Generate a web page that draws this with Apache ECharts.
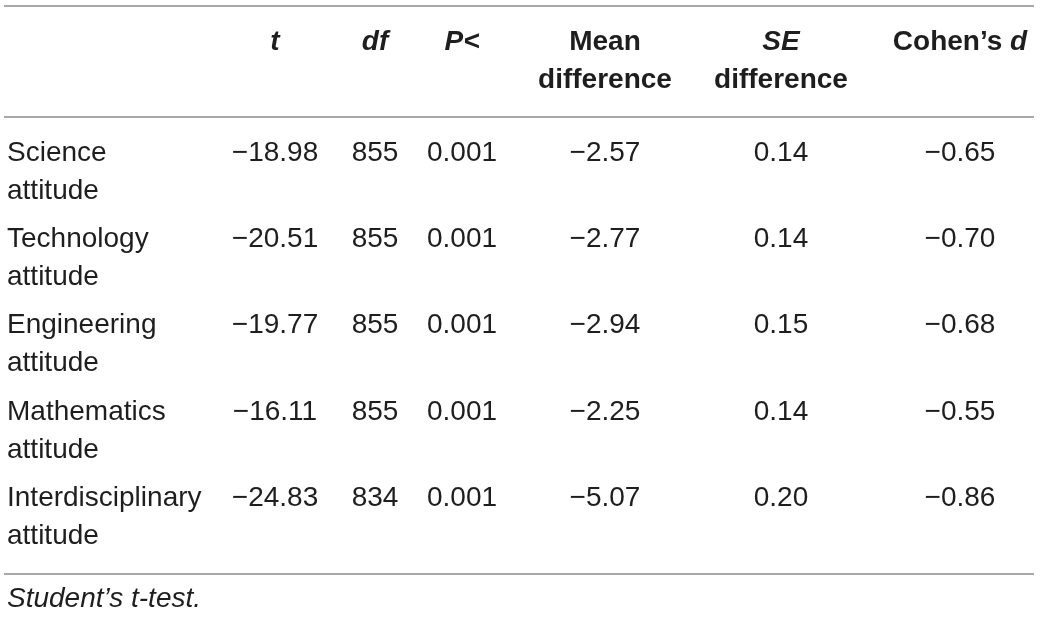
<!DOCTYPE html>
<html><head><meta charset="utf-8">
<script src="https://cdn.jsdelivr.net/npm/echarts@6/dist/echarts.min.js"></script>
<style>html,body{margin:0;padding:0;background:#fff}#c{width:1040px;height:617px}</style>
</head><body><div id="c"></div>
<script>
// ---- data ----
const rowLabels = ['Science\nattitude','Technology\nattitude','Engineering\nattitude','Mathematics\nattitude','Interdisciplinary\nattitude'];
const tValues = [-18.98, -20.51, -19.77, -16.11, -24.83];
const dfValues = [855, 855, 855, 855, 834];
const pValues = [0.001, 0.001, 0.001, 0.001, 0.001];
const meanDiff = [-2.57, -2.77, -2.94, -2.25, -5.07];
const seDiff = [0.14, 0.14, 0.15, 0.14, 0.20];
const cohensD = [-0.65, -0.70, -0.68, -0.55, -0.86];
const headers = ['{bi|t}', '{bi|df}', '{bi|P<}', '{b|Mean}\n{b|difference}', '{bi|SE}\n{b|difference}', '{b|Cohen\u2019s }{bi|d}'];
const footnote = 'Student\u2019s t-test.';

// ---- layout ----
const colX = [7, 275, 375, 462, 605, 781, 960];
const headerTop = 23, firstRowTop = 134, rowPitch = 86.3;
const lineYs = [5.5, 116.5, 573.5];
const textColor = '#1e1e1e';
const FS = 28, LH = 38;
const FONT = '"Liberation Sans", Arial, Helvetica, sans-serif';

const fmt = (v, d) => (v < 0 ? '\u2212' : '') + Math.abs(v).toFixed(d);
const cols = [tValues.map(v=>fmt(v,2)), dfValues.map(v=>String(v)), pValues.map(v=>fmt(v,3)),
  meanDiff.map(v=>fmt(v,2)), seDiff.map(v=>fmt(v,2)), cohensD.map(v=>fmt(v,2))];

const data = [];
const baseLabel = {show:true, position:'inside', verticalAlign:'top', fontFamily:FONT, fontSize:FS, lineHeight:LH, color:textColor, opacity:1, textBorderWidth:0};
headers.forEach((h,i)=>{
  data.push({value:[colX[i+1], headerTop], label:Object.assign({}, baseLabel, {align:'center', formatter:h,
    rich:{b:{fontWeight:'bold', fontSize:FS, lineHeight:LH, fontFamily:FONT, color:textColor},
          bi:{fontWeight:'bold', fontStyle:'italic', fontSize:FS, lineHeight:LH, fontFamily:FONT, color:textColor}}})});
});
rowLabels.forEach((r,ri)=>{
  const y = firstRowTop + ri*rowPitch;
  data.push({value:[colX[0], y], label:Object.assign({}, baseLabel, {align:'left', formatter:r})});
  cols.forEach((c,ci)=>{
    data.push({value:[colX[ci+1], y], label:Object.assign({}, baseLabel, {align:'center', formatter:c[ri]})});
  });
});
data.push({value:[colX[0], 580], label:Object.assign({}, baseLabel, {align:'left', fontStyle:'italic', formatter:footnote})});

const chart = echarts.init(document.getElementById('c'));
chart.setOption({
  animation:false,
  grid:{left:0,right:0,top:0,bottom:0},
  xAxis:{type:'value', min:0, max:1040, show:false},
  yAxis:{type:'value', min:0, max:617, inverse:true, show:false},
  series:[{
    type:'scatter', symbolSize:1, itemStyle:{color:'rgba(0,0,0,0)', opacity:1},
    data:data,
    markLine:{silent:true, symbol:'none', label:{show:false},
      lineStyle:{color:'#a8a8a8', width:2, type:'solid', opacity:1},
      data: lineYs.map(y=>[{coord:[4,y]},{coord:[1034,y]}])}
  }]
});
</script></body></html>
